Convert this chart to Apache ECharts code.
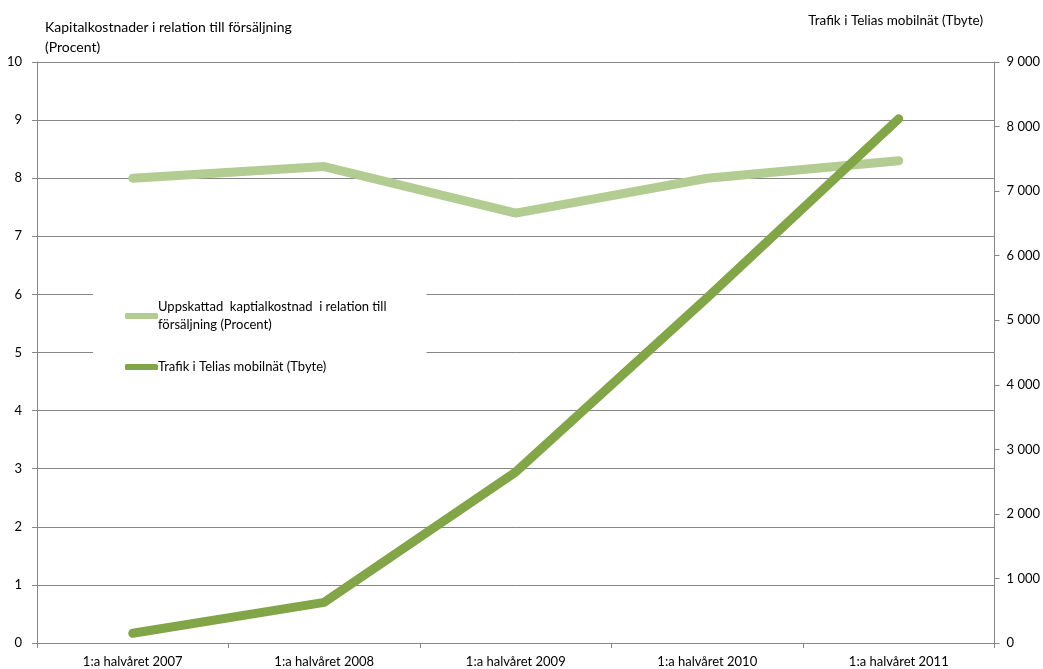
<!DOCTYPE html>
<html>
<head>
<meta charset="utf-8">
<script src="https://cdn.jsdelivr.net/npm/echarts@6/dist/echarts.min.js"></script>
<style>
  html, body { margin: 0; padding: 0; background: #fff; }
  #chart { width: 1043px; height: 669px; }
</style>
</head>
<body>
<div id="chart"></div>
<script>
// Half-year periods
const categories = ['1:a halvåret 2007', '1:a halvåret 2008', '1:a halvåret 2009', '1:a halvåret 2010', '1:a halvåret 2011'];
// Estimated capital cost relative to sales (percent, left axis)
const capexShare = [8.0, 8.2, 7.4, 8.0, 8.3];
// Traffic in Telia's mobile network (Tbyte, right axis)
const traffic = [150, 630, 2650, 5350, 8120];

const seriesNames = ['Uppskattad  kaptialkostnad  i relation till\nförsäljning (Procent)', 'Trafik i Telias mobilnät (Tbyte)'];
const leftTitle = 'Kapitalkostnader i relation till försäljning\n(Procent)';
const rightTitle = 'Trafik i Telias mobilnät (Tbyte)';

const FONT = 'Lato, "Liberation Sans", sans-serif';
const GRID = '#868686';
const LIGHT = '#b3cc92';
const DARK = '#81a547';

const fmtThousands = v => String(v).replace(/\B(?=(\d{3})+(?!\d))/g, ' ');

const chart = echarts.init(document.getElementById('chart'), null, { renderer: 'canvas' });
chart.setOption({
  animation: false,
  backgroundColor: '#fff',
  textStyle: { fontFamily: FONT },
  title: [
    { text: leftTitle, left: 40, top: 12, textStyle: { fontFamily: FONT, fontSize: 14, fontWeight: 'normal', color: '#000', lineHeight: 20 } },
    { text: rightTitle, right: 55, top: 9, textStyle: { fontFamily: FONT, fontSize: 13.5, fontWeight: 'normal', color: '#000' } }
  ],
  grid: { left: 37, right: 47, top: 62, bottom: 26, containLabel: false },
  legend: {
    orient: 'vertical',
    left: 93,
    top: 285,
    width: 332,
    padding: [13, 40, 30, 32],
    itemGap: 24,
    backgroundColor: '#fff',
    itemWidth: 33,
    itemHeight: 6,
    icon: 'roundRect',
    textStyle: { fontFamily: FONT, fontSize: 13, color: '#000', lineHeight: 18, padding: [0, 0, 0, -5] },
    data: seriesNames.map((n, i) => ({ name: n, itemStyle: { color: i === 0 ? LIGHT : DARK } }))
  },
  xAxis: {
    type: 'category',
    data: categories,
    boundaryGap: true,
    axisLine: { lineStyle: { color: GRID, width: 1 } },
    axisTick: { show: true, length: 5, lineStyle: { color: GRID } },
    axisLabel: { color: '#000', fontSize: 13, margin: 12, fontFamily: FONT }
  },
  yAxis: [
    {
      type: 'value', min: 0, max: 10, interval: 1, position: 'left',
      axisLine: { show: true, lineStyle: { color: GRID } },
      axisTick: { show: true, length: 5, lineStyle: { color: GRID } },
      splitLine: { show: true, lineStyle: { color: GRID, width: 1 } },
      axisLabel: { color: '#000', fontSize: 13, margin: 15, fontFamily: FONT }
    },
    {
      type: 'value', min: 0, max: 9000, interval: 1000, position: 'right',
      axisLine: { show: true, lineStyle: { color: GRID } },
      axisTick: { show: true, length: 5, lineStyle: { color: GRID } },
      splitLine: { show: false },
      axisLabel: { color: '#000', fontSize: 13, margin: 12, fontFamily: FONT, formatter: fmtThousands }
    }
  ],
  series: [
    {
      name: seriesNames[0], type: 'line', yAxisIndex: 0, data: capexShare,
      symbol: 'none', z: 2,
      lineStyle: { color: LIGHT, width: 9, cap: 'round', join: 'round' },
      itemStyle: { color: LIGHT }
    },
    {
      name: seriesNames[1], type: 'line', yAxisIndex: 1, data: traffic,
      symbol: 'none', z: 3,
      lineStyle: { color: DARK, width: 9, cap: 'round', join: 'round' },
      itemStyle: { color: DARK }
    }
  ]
});
</script>
</body>
</html>
